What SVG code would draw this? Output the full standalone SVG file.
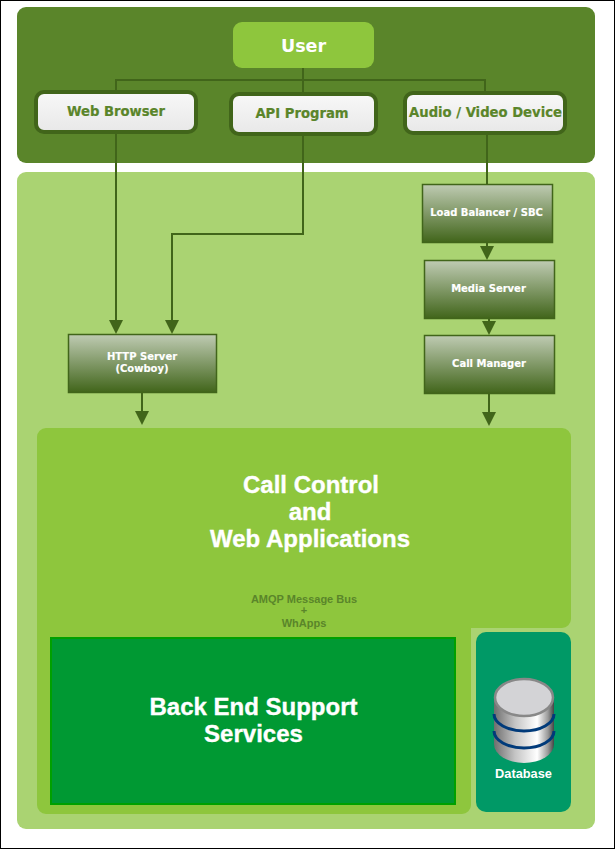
<svg xmlns="http://www.w3.org/2000/svg" width="615" height="849" viewBox="0 0 615 849">
<style>
.v{font-family:"DejaVu Sans",Verdana,sans-serif;font-weight:700;text-anchor:middle}
.a{font-family:"Liberation Sans",Arial,sans-serif;font-weight:700;text-anchor:middle}
.w{fill:#fff}
.big{font-size:24px;stroke:#fff;stroke-width:.35}
.cl{fill:#5a852a;font-size:13.2px;stroke:#5a852a;stroke-width:.2}
.box{fill:url(#g1);stroke:#41651a;stroke-width:4}
.srv{fill:url(#g2);stroke:#41651a;stroke-width:1.5}
.con{fill:none;stroke:#41651a;stroke-width:2}
.arr{fill:#41651a}
.st{font-size:10px;stroke:#fff;stroke-width:.15}
.blue{fill:none;stroke:#003a7a;stroke-width:3}
.amqp{font-size:11px;fill:#5a852a}
</style>
<defs>
<linearGradient id="g1" x1="0" y1="0" x2="0" y2="1"><stop offset="0" stop-color="#f8f8f8"/><stop offset="1" stop-color="#e8e8e8"/></linearGradient>
<linearGradient id="g2" x1="0" y1="0" x2="0" y2="1"><stop offset="0" stop-color="#bfcbb3"/><stop offset="1" stop-color="#41651a"/></linearGradient>
<linearGradient id="g3" x1="0" y1="0" x2="1" y2="0"><stop offset="0" stop-color="#6e6e6e"/><stop offset=".35" stop-color="#c4c4c4"/><stop offset=".72" stop-color="#fff"/><stop offset=".9" stop-color="#999"/><stop offset="1" stop-color="#444"/></linearGradient>
</defs>
<rect x=".5" y=".5" width="614" height="848" fill="#fff" stroke="#000"/>
<g id="panel-user"><rect x="17" y="7" width="578" height="156" rx="9" fill="#5a852a"/></g>
<g id="panel-main"><rect x="17" y="172" width="578" height="657" rx="9" fill="#aad372"/></g>
<g id="call-control">
<path d="M46 428H562a9 9 0 0 1 9 9V619a9 9 0 0 1-9 9H471V805a9 9 0 0 1-9 9H46a9 9 0 0 1-9-9V437a9 9 0 0 1 9-9Z" fill="#8ec63d"/>
<text class="a w big" x="311" y="493">Call Control</text>
<text class="a w big" x="310" y="520">and</text>
<text class="a w big" x="310" y="547">Web Applications</text>
<text class="a amqp" x="304" y="603">AMQP Message Bus</text>
<text class="a amqp" x="304" y="614">+</text>
<text class="a amqp" x="304" y="627">WhApps</text>
</g>
<g id="connectors">
<path class="con" d="M303 68V92M116 90V80H485V91"/>
<path class="con" d="M116 134V322"/>
<path class="con" d="M303 136V234H172V322"/>
<path class="con" d="M487 135V184"/>
<path class="con" d="M487 243V248"/>
<path class="con" d="M489 319V322"/>
<path class="con" d="M489 393V412"/>
<path class="con" d="M142 392V412"/>
<path class="arr" d="M109 320H123L116 334Z"/>
<path class="arr" d="M165 320H179L172 334Z"/>
<path class="arr" d="M480 246H494L487 260Z"/>
<path class="arr" d="M482 321H496L489 335Z"/>
<path class="arr" d="M482 412H496L489 426Z"/>
<path class="arr" d="M135 411H149L142 425Z"/>
</g>
<g id="user"><rect x="233" y="22" width="141" height="46" rx="9" fill="#8ec63d"/><text class="v w" x="303.500" y="52" font-size="17.500">User</text></g>
<g id="web-browser"><rect class="box" x="36" y="92" width="160" height="40" rx="8"/><text class="v cl" x="116" y="116">Web Browser</text></g>
<g id="api-program"><rect class="box" x="231" y="94" width="145" height="40" rx="8"/><text class="v cl" x="302" y="118">API Program</text></g>
<g id="audio-video"><rect class="box" x="405" y="93" width="160" height="40" rx="8"/><text class="v cl" x="485.500" y="117">Audio / Video Device</text></g>
<g id="load-balancer"><rect class="srv" x="422.500" y="184.500" width="130" height="58"/><text class="v w st" x="486.500" y="216">Load Balancer / SBC</text></g>
<g id="media-server"><rect class="srv" x="424.500" y="260.500" width="130" height="58"/><text class="v w st" x="488.500" y="292">Media Server</text></g>
<g id="call-manager"><rect class="srv" x="424.500" y="335.500" width="130" height="58"/><text class="v w st" x="489" y="367">Call Manager</text></g>
<g id="http-server"><rect class="srv" x="68.500" y="334.500" width="148" height="58"/><text class="v w st" x="142" y="360">HTTP Server</text><text class="v w st" x="142" y="372">(Cowboy)</text></g>
<g id="back-end"><rect x="51" y="638" width="404" height="166" fill="#009933" stroke="#00a000" stroke-width="2"/><text class="a w big" x="253.500" y="715">Back End Support</text><text class="a w big" x="253.500" y="742">Services</text></g>
<g id="database">
<rect x="476" y="632" width="95" height="180" rx="10" fill="#009966"/>
<path d="M494 698V744A30 19 0 0 0 554 744V698Z" fill="url(#g3)"/>
<path class="blue" d="M494 714A30 17 0 0 0 554 714"/>
<path class="blue" d="M494 731A30 17 0 0 0 554 731"/>
<ellipse cx="524" cy="697.500" rx="29" ry="18.500" fill="#d3d3d6" stroke="#888" stroke-width="2.500"/>
<text class="a w" x="523.500" y="778" font-size="12.800">Database</text>
</g>
</svg>
